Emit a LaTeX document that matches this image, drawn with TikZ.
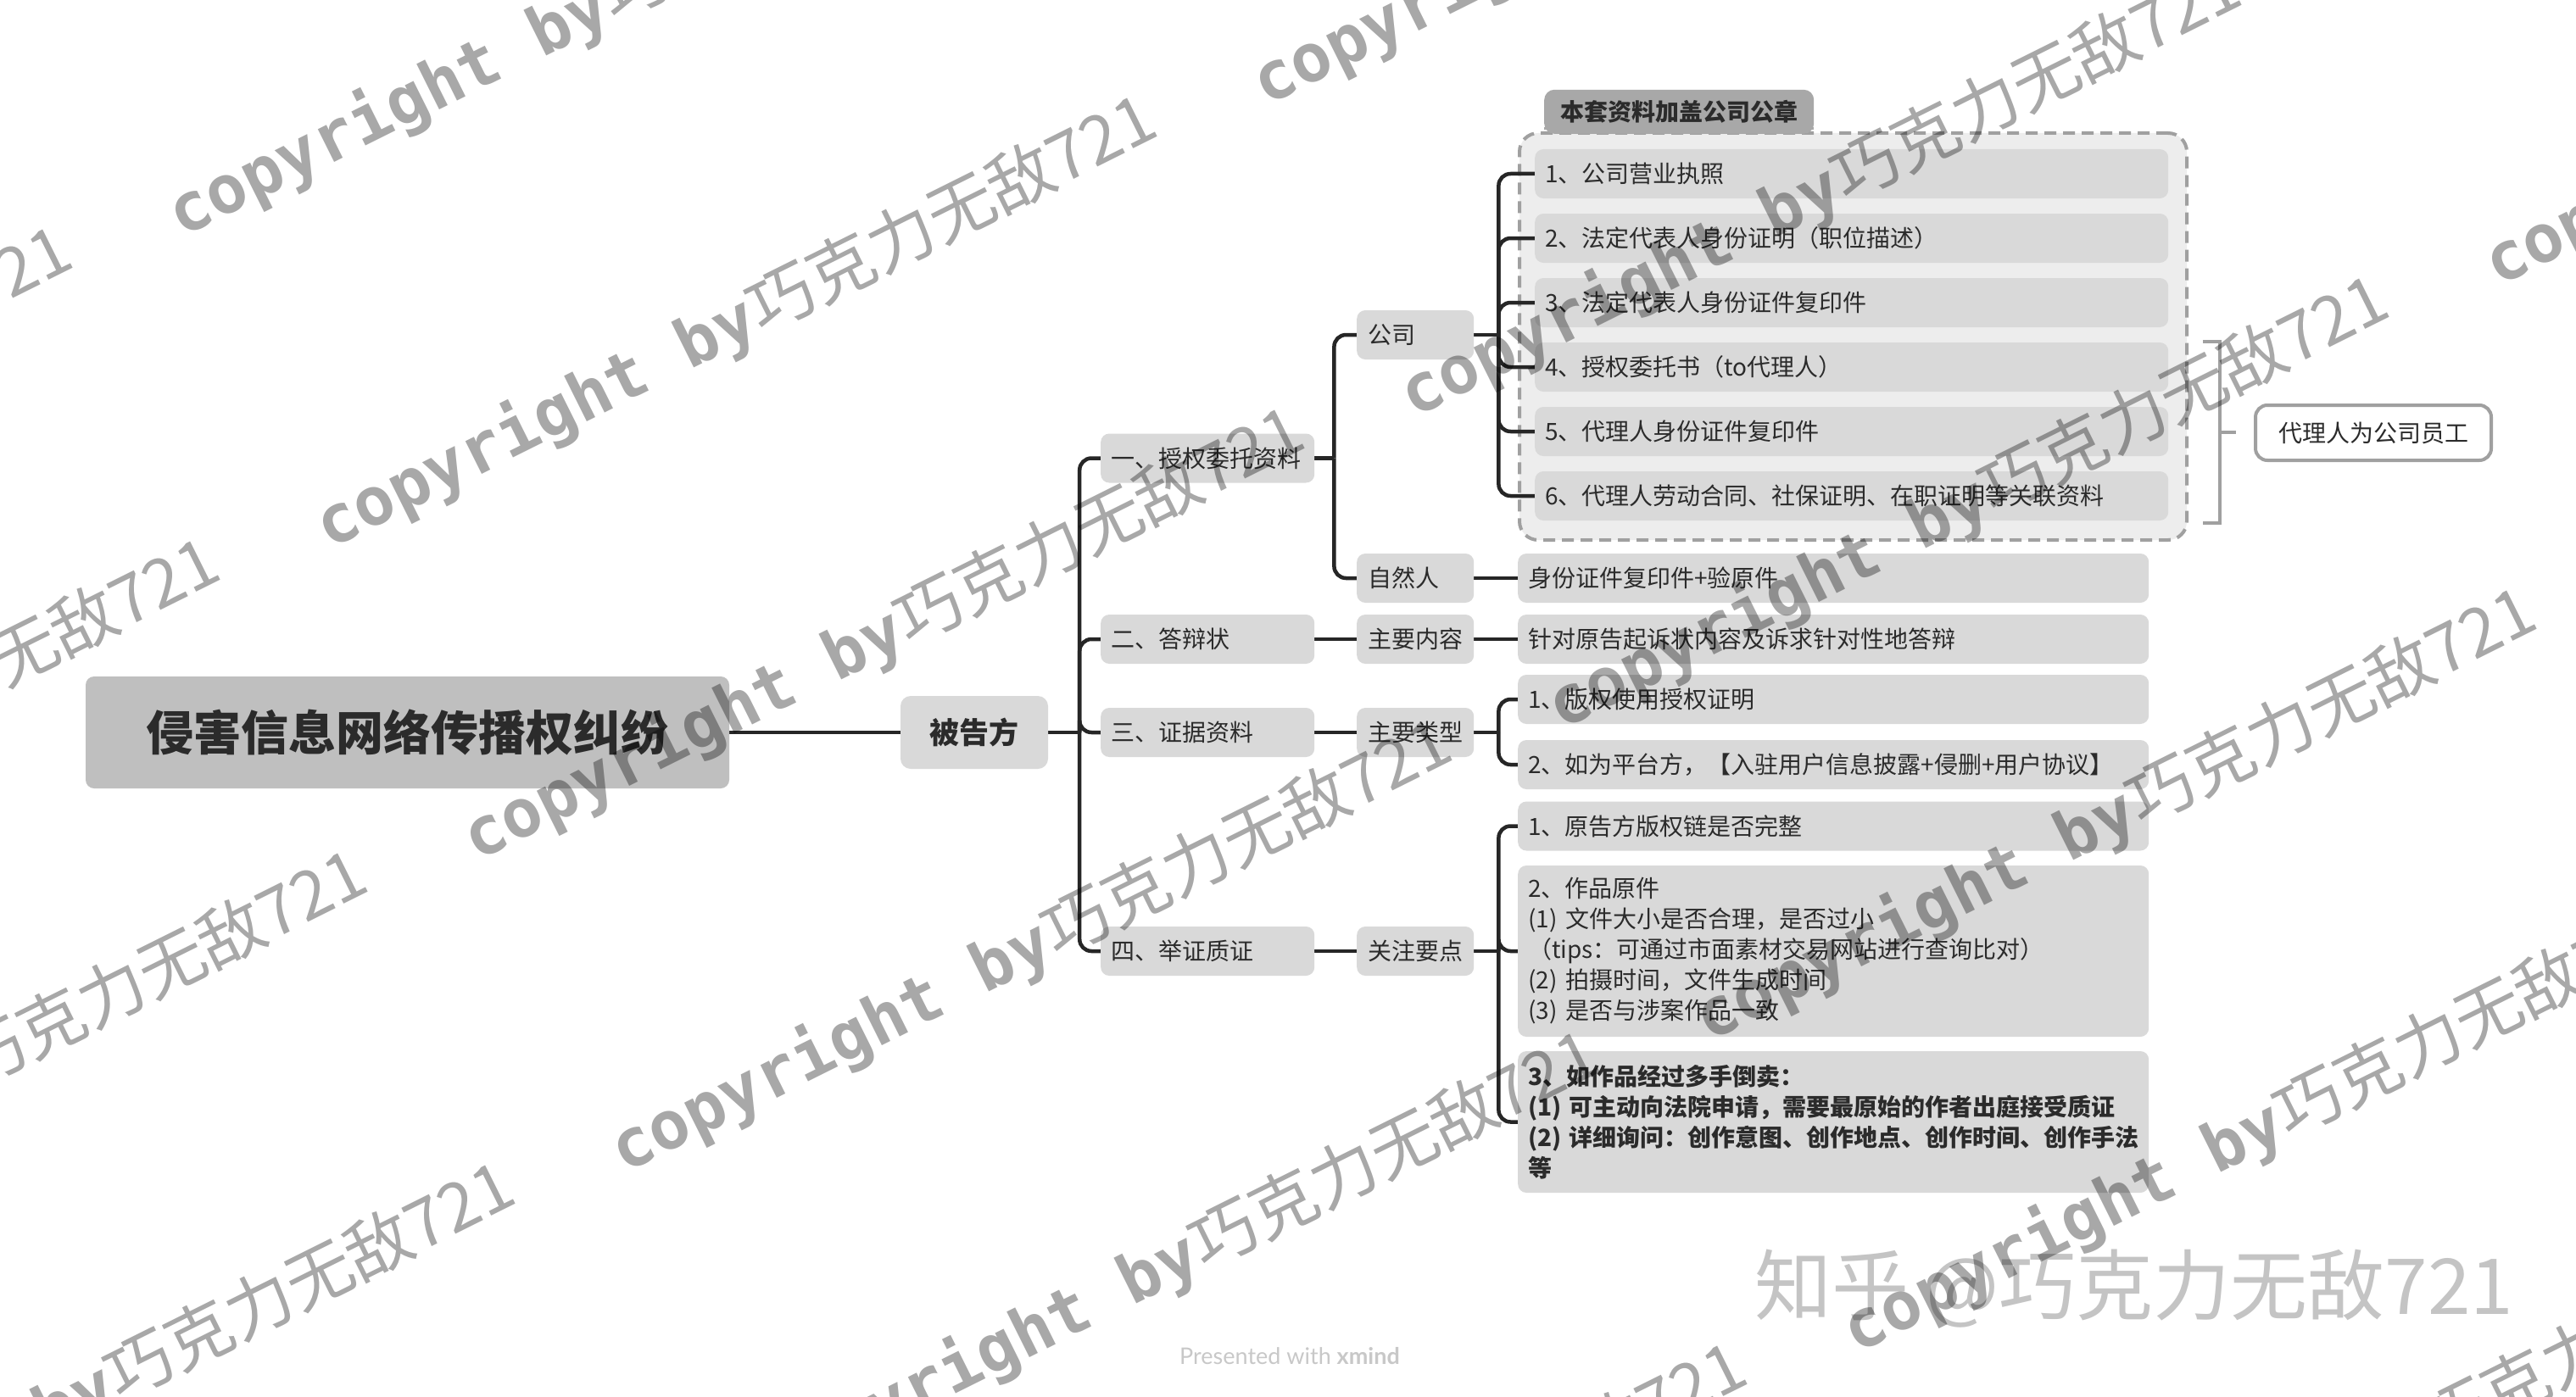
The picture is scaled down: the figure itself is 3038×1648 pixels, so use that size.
\documentclass[tikz,border=0pt]{standalone}
\usepackage{fontspec}
\setmainfont{Noto Sans CJK SC}
\newfontfamily\wmmono{DejaVu Sans Mono}
\newfontfamily\latofont{Lato}
\usetikzlibrary{calc}
\definecolor{boxgray}{HTML}{D9D9D9}
\definecolor{rootgray}{HTML}{BFBFBF}
\definecolor{grpfill}{HTML}{EDEDED}
\definecolor{grpline}{HTML}{A0A0A0}
\definecolor{tabgray}{HTML}{A8A8A8}
\definecolor{linec}{HTML}{262626}
\definecolor{txt}{HTML}{2B2B2B}
\definecolor{zhgray}{HTML}{C4C4C4}
\definecolor{xmgray}{HTML}{C8C8C8}
\pgfdeclarelayer{bg}
\pgfdeclarelayer{mid}
\pgfdeclarelayer{fg}
\pgfsetlayers{bg,mid,main,fg}
\begin{document}
\begin{tikzpicture}[x=1pt,y=-1pt,
  conn/.style={draw=linec, line width=4.5pt, rounded corners=14pt},
  box/.style={fill=boxgray, rounded corners=10pt, anchor=west, inner xsep=12pt, inner ysep=0pt,
    minimum height=58pt, text width=#1, align=left, text=txt,
    font=\fontsize{28}{36}\selectfont},
  box/.default=720pt,
  midbox/.style={box=112pt, inner xsep=13pt},
  lvltwo/.style={box=228pt},
  wm/.style={anchor=base west, text=black, opacity=0.34, inner sep=0pt,
    font=\fontsize{79}{79}\selectfont},
]
\useasboundingbox (0,0) rectangle (3038,1648);

% background and group boundary
\begin{pgfonlayer}{bg}
\fill[white] (0,0) rectangle (3038,1648);
\node[draw=grpline, dashed, dash pattern=on 14pt off 8pt, line width=4pt, fill=grpfill,
  rounded corners=22pt, minimum width=787pt, minimum height=480pt, inner sep=0pt, anchor=north west]
  (grp) at (1790,155) {};
\node[fill=tabgray, anchor=south west, minimum width=318pt, minimum height=52pt, inner sep=0pt,
  rounded corners=12pt, text=txt, font=\fontsize{28}{28}\selectfont\bfseries]
  (tab) at (1821,158) {本套资料加盖公司公章};
\fill[tabgray] (1821,150) rectangle (2139,153);
\end{pgfonlayer}

% nodes
\node[fill=rootgray, rounded corners=10pt, minimum width=759pt, minimum height=132pt, inner sep=0pt,
  text=txt, font=\fontsize{56}{56}\selectfont\bfseries] (root) at (480.5,864) {侵害信息网络传播权纠纷};
\node[fill=boxgray, rounded corners=12pt, minimum width=174pt, minimum height=86pt, inner sep=0pt,
  text=txt, font=\fontsize{35}{35}\selectfont\bfseries] (def) at (1149,864) {被告方};

\node[lvltwo] (A) at (1298,540.5) {一、授权委托资料};
\node[lvltwo] (B) at (1298,754) {二、答辩状};
\node[lvltwo] (C) at (1298,864) {三、证据资料};
\node[lvltwo] (D) at (1298,1122) {四、举证质证};

\node[midbox] (gs) at (1600,395) {公司};
\node[midbox] (zr) at (1600,682) {自然人};
\node[midbox] (nr) at (1600,754) {主要内容};
\node[midbox] (lx) at (1600,864) {主要类型};
\node[midbox] (yd) at (1600,1122) {关注要点};

\node[box=723pt] (c1) at (1810,205) {1、公司营业执照};
\node[box=723pt] (c2) at (1810,281) {2、法定代表人身份证明（职位描述）};
\node[box=723pt] (c3) at (1810,357) {3、法定代表人身份证件复印件};
\node[box=723pt] (c4) at (1810,433) {4、授权委托书（to代理人）};
\node[box=723pt] (c5) at (1810,509) {5、代理人身份证件复印件};
\node[box=723pt] (c6) at (1810,585) {6、代理人劳动合同、社保证明、在职证明等关联资料};

\node[box] (p1) at (1790,682) {身份证件复印件+验原件};
\node[box] (p2) at (1790,754) {针对原告起诉状内容及诉求针对性地答辩};
\node[box] (e1) at (1790,825) {1、版权使用授权证明};
\node[box] (e2) at (1790,902) {2、如为平台方，【入驻用户信息披露+侵删+用户协议】};
\node[box] (k1) at (1790,974.5) {1、原告方版权链是否完整};
\node[box, minimum height=202pt] (k2) at (1790,1122) {2、作品原件\\(1) 文件大小是否合理，是否过小\\（tips：可通过市面素材交易网站进行查询比对）\\(2) 拍摄时间，文件生成时间\\(3) 是否与涉案作品一致};
\node[box, minimum height=167pt, font=\fontsize{28}{36}\selectfont\bfseries] (k3) at (1790,1323.5) {3、如作品经过多手倒卖：\\(1) 可主动向法院申请，需要最原始的作者出庭接受质证\\(2) 详细询问：创作意图、创作地点、创作时间、创作手法\\等};

% summary
\node[draw=grpline, line width=4pt, fill=white, rounded corners=14pt, minimum width=278pt,
  minimum height=65pt, inner sep=0pt, text=txt, font=\fontsize{28}{28}\selectfont] (sm) at (2799,510.5) {代理人为公司员工};
\coordinate (bt) at (2598,403);
\coordinate (bb) at (2598,617);
\coordinate (bm) at (2618,510);
\coordinate (bx) at (2637,510);

% connectors
\begin{pgfonlayer}{mid}
\draw[conn] (root.east) -- (def.west);
\path (def.east) ++(37,0) coordinate (t0);
\draw[conn] (def.east) -- (t0);
\foreach \c in {A,B,C,D} \draw[conn] (t0) |- (\c.west);
\path (A.east) ++(23,0) coordinate (t1);
\draw[conn] (A.east) -- (t1);
\foreach \c in {gs,zr} \draw[conn] (t1) |- (\c.west);
\draw[conn] (B.east) -- (nr.west);
\draw[conn] (C.east) -- (lx.west);
\draw[conn] (D.east) -- (yd.west);
\draw[conn] (zr.east) -- (p1.west);
\draw[conn] (nr.east) -- (p2.west);
\path (gs.east) ++(29,0) coordinate (t2);
\draw[conn] (gs.east) -- (t2);
\foreach \c in {c1,c2,c3,c4,c5,c6} \draw[conn] (t2) |- (\c.west);
\path (lx.east) ++(29,0) coordinate (t3);
\draw[conn] (lx.east) -- (t3);
\foreach \c in {e1,e2} \draw[conn] (t3) |- (\c.west);
\path (yd.east) ++(29,0) coordinate (t4);
\draw[conn] (yd.east) -- (t4);
\foreach \c in {k1,k2,k3} \draw[conn] (t4) |- (\c.west);
\draw[draw=grpline, line width=4pt] (bt) -| (bm) |- (bb);
\draw[draw=grpline, line width=4pt] (bm) -- (bx);
\end{pgfonlayer}

% footer texts
\node[text=xmgray, font=\latofont\fontsize{27}{27}\selectfont, inner sep=0pt] (xm) at (1521,1600) {Presented with \textbf{xmind}};
\node[text=zhgray, anchor=west, inner sep=0pt, font=\fontsize{91}{91}\selectfont] (zh) at (2069,1520) {知乎 @巧克力无敌721};

% watermarks
\begin{pgfonlayer}{fg}
\begin{scope}
\clip (0,0) rectangle (3038,1648);
\foreach \i in {-3,...,4} {
  \foreach \j in {-1,...,2} {
    \node[wm, rotate=26.5] (wm\i\j) at ({388+174*\i+1279*\j},{649+368*\i-155*\j}) {{\wmmono\bfseries copyright by}巧克力无敌721};
  }
}
\end{scope}
\end{pgfonlayer}
\end{tikzpicture}
\end{document}
